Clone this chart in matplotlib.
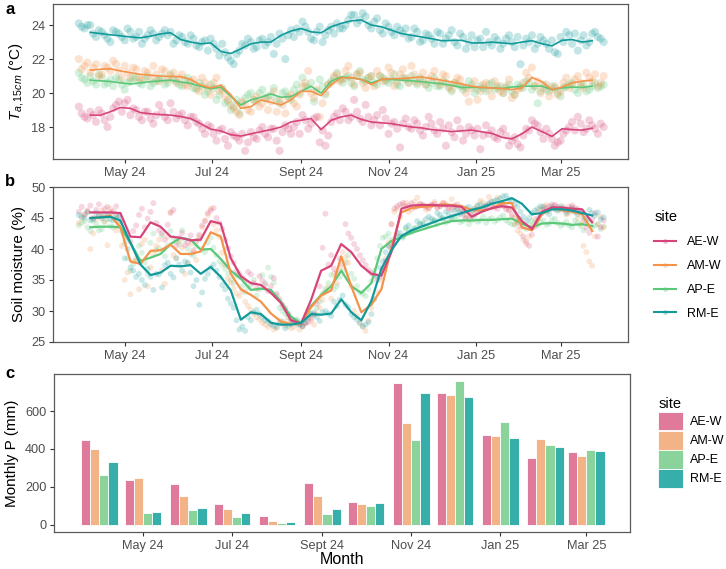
import numpy as np
import pandas as pd
import matplotlib
matplotlib.use("Agg")
import matplotlib.pyplot as plt
import matplotlib.dates as mdates
from matplotlib.lines import Line2D
from matplotlib.patches import Patch
from matplotlib.colors import to_rgba

plt.rcParams['font.family'] = ['Liberation Sans', 'DejaVu Sans']
plt.rcParams['mathtext.fontset'] = 'custom'
plt.rcParams['mathtext.rm'] = 'Liberation Sans'
plt.rcParams['mathtext.it'] = 'Liberation Sans:italic'

sites = ["AE-W", "AM-W", "AP-E", "RM-E"]
line_colors = ["#D6457A", "#F4934A", "#5AC878", "#129A9A"]
bar_colors = ["#DF7A9B", "#F2B486", "#8AD49B", "#36AEAA"]

tick_dates = ["2024-05-01", "2024-07-01", "2024-09-01", "2024-11-01", "2025-01-01", "2025-03-01"]
tick_labels = ["May 24", "Jul 24", "Sept 24", "Nov 24", "Jan 25", "Mar 25"]

# weekly smoothed lines (Apr 7 2024 .. Mar 23 2025)
line_dates = pd.date_range("2024-04-07", periods=51, freq="7D")
# daily observations, shown every 4 days (Mar 30 2024 .. Mar 29 2025)
point_dates = pd.date_range("2024-03-30", periods=92, freq="4D")
# in-between days (Apr 1 2024 .. Mar 31 2025)
point_dates_mid = pd.date_range("2024-04-01", periods=92, freq="4D")
# monthly precipitation
month_dates = pd.date_range("2024-04-01", periods=12, freq="MS")

# ---- panel a: temperature at 15 cm ----
temp_line_aew = [18.7, 18.7, 18.9, 19.15, 19.1, 18.85, 18.78, 18.73, 18.7, 18.62,
                 18.5, 18.2, 17.88, 17.77, 17.55, 17.47, 17.6, 17.73, 17.85, 18.0,
                 18.3, 18.4, 18.5, 17.85, 18.4, 18.6, 18.7, 18.45, 18.3, 18.25,
                 18.2, 18.1, 18.0, 17.95, 17.85, 17.8, 17.73, 17.78, 17.82, 17.72,
                 17.63, 17.4, 17.3, 17.6, 18.0, 17.73, 17.45, 17.9, 17.85, 17.82,
                 17.93]
temp_line_amw = [21.35, 21.4, 21.43, 21.3, 21.2, 21.1, 21.05, 21.0, 20.98, 20.96,
                 20.8, 20.47, 20.3, 20.47, 19.9, 19.1, 19.2, 19.6, 19.45, 19.3,
                 19.6, 20.1, 20.1, 19.85, 20.5, 20.9, 20.9, 20.8, 20.5, 20.8,
                 20.85, 20.85, 20.9, 20.95, 20.85, 20.76, 20.65, 20.53, 20.4, 20.33,
                 20.3, 20.27, 20.2, 20.3, 20.92, 20.67, 20.2, 20.35, 20.6, 20.7,
                 20.76]
temp_line_ape = [20.76, 20.72, 20.68, 20.6, 20.53, 20.6, 20.67, 20.72, 20.76, 20.65,
                 20.57, 20.4, 20.25, 20.35, 19.8, 19.3, 19.6, 19.75, 19.95, 19.75,
                 19.8, 20.1, 20.4, 20.0, 20.7, 20.95, 20.9, 20.8, 20.6, 20.8,
                 20.8, 20.76, 20.72, 20.67, 20.6, 20.55, 20.45, 20.33, 20.33, 20.33,
                 20.3, 20.27, 20.35, 20.4, 20.41, 20.41, 20.2, 20.3, 20.35, 20.33,
                 20.41]
temp_line_rme = [23.57, 23.5, 23.43, 23.37, 23.3, 23.25, 23.35, 23.48, 23.55, 23.15,
                 23.0, 22.9, 22.95, 22.45, 22.33, 22.6, 22.9, 23.0, 23.0, 23.4,
                 23.65, 23.8, 23.6, 23.55, 23.9, 24.1, 24.25, 24.3, 24.0, 23.9,
                 23.7, 23.5, 23.4, 23.3, 23.2, 23.08, 23.1, 23.1, 22.95, 22.95,
                 23.0, 22.95, 22.9, 23.0, 23.08, 22.9, 22.78, 23.1, 23.15, 23.0,
                 23.08]

temp_pts_aew = [19.2, 18.6, 18.9, 18.3, 18.8, 18.0, 19.1, 19.5, 19.4, 18.7,
                19.0, 18.4, 18.9, 18.2, 19.3, 18.6, 19.4, 18.5, 18.8, 18.1,
                18.6, 18.2, 17.6, 18.0, 17.2, 17.9, 16.9, 17.5, 17.2, 16.6,
                17.7, 17.3, 18.0, 17.4, 17.9, 16.6, 18.1, 17.6, 18.3, 18.7,
                17.9, 18.5, 17.1, 16.9, 18.3, 18.8, 19.1, 18.4, 19.6, 18.5,
                19.3, 18.1, 18.7, 19.0, 17.6, 18.3, 16.8, 18.5, 17.9, 18.2,
                17.5, 18.6, 17.8, 18.3, 16.9, 17.7, 18.4, 17.2, 18.0, 17.5,
                16.7, 18.1, 17.8, 17.3, 17.9, 16.9, 17.4, 16.8, 17.9, 18.4,
                18.1, 17.3, 17.6, 16.9, 17.2, 17.8, 18.3, 18.6, 17.7, 18.4,
                17.9, 18.2]
temp_pts_amw = [22.0, 21.6, 21.2, 21.7, 21.1, 21.5, 21.9, 21.3, 21.6, 20.9,
                21.4, 20.8, 21.2, 21.6, 20.7, 21.3, 21.0, 20.6, 21.1, 20.4,
                20.8, 20.1, 20.6, 19.9, 20.9, 20.2, 19.6, 19.1, 18.7, 19.3,
                18.9, 19.8, 19.4, 19.0, 20.1, 19.6, 18.8, 19.9, 19.2, 20.4,
                21.3, 19.7, 18.6, 20.0, 20.6, 21.1, 20.8, 21.6, 20.5, 21.2,
                20.3, 21.0, 21.3, 20.7, 21.5, 20.4, 21.1, 20.9, 21.6, 20.6,
                21.2, 20.8, 21.3, 20.5, 21.0, 20.2, 20.9, 20.4, 19.5, 20.7,
                20.1, 20.6, 19.8, 20.4, 20.0, 20.8, 19.9, 20.3, 21.2, 21.5,
                20.7, 20.3, 19.8, 20.4, 20.1, 20.9, 20.5, 21.0, 20.3, 20.9,
                21.1, 20.6]
temp_pts_ape = [21.2, 20.8, 21.0, 20.5, 20.9, 20.6, 20.4, 20.8, 20.2, 20.7,
                20.9, 20.5, 21.0, 20.6, 20.8, 20.5, 21.1, 20.7, 20.4, 20.9,
                20.3, 20.6, 19.9, 20.5, 19.6, 20.3, 19.5, 19.2, 18.8, 19.7,
                20.0, 19.5, 20.2, 19.8, 20.3, 19.4, 20.1, 19.6, 20.5, 20.9,
                20.3, 19.5, 20.8, 19.9, 20.7, 21.2, 20.6, 21.0, 20.4, 21.3,
                20.7, 21.0, 20.5, 20.9, 20.6, 21.1, 20.4, 20.8, 21.0, 20.5,
                20.7, 20.3, 20.9, 20.4, 20.6, 20.1, 20.5, 20.2, 20.7, 20.0,
                20.4, 20.1, 20.6, 20.3, 20.0, 20.5, 19.9, 20.4, 20.7, 20.2,
                19.4, 20.5, 20.1, 20.3, 19.8, 20.4, 20.6, 20.0, 20.5, 20.2,
                20.6, 20.4]
temp_pts_rme = [24.1, 23.8, 24.0, 23.3, 23.6, 23.2, 23.7, 23.5, 23.1, 23.6,
                23.3, 22.9, 23.4, 23.5, 23.3, 23.7, 23.6, 23.1, 23.3, 22.9,
                23.2, 22.7, 23.1, 23.2, 22.6, 22.9, 22.1, 21.7, 22.5, 22.8,
                23.0, 22.7, 23.2, 23.0, 22.3, 23.5, 22.0, 23.7, 23.8, 24.2,
                23.6, 23.1, 23.9, 23.4, 23.9, 24.1, 23.8, 24.3, 24.6, 24.3,
                24.5, 23.8, 24.4, 23.5, 23.9, 23.4, 23.7, 23.8, 23.3, 23.6,
                23.1, 23.4, 22.9, 23.5, 23.2, 23.7, 22.8, 23.3, 23.0, 22.7,
                23.2, 23.6, 22.8, 23.1, 22.9, 23.4, 22.7, 21.7, 23.2, 23.4,
                22.9, 23.1, 22.6, 22.4, 23.3, 23.6, 22.9, 22.5, 23.4, 23.0,
                23.6, 23.2]

temp_mid_aew = [18.8, 18.5, 18.7, 19.0, 18.4, 18.6, 19.3, 18.9, 19.6, 19.1,
                18.6, 18.9, 18.5, 18.7, 18.9, 18.4, 18.9, 18.7, 18.4, 18.6,
                18.3, 17.9, 18.1, 17.6, 17.8, 17.3, 17.7, 17.4, 17.6, 17.1,
                17.4, 17.8, 17.6, 17.9, 17.2, 17.7, 17.9, 18.0, 17.6, 18.4,
                18.2, 18.6, 17.8, 17.5, 18.6, 18.4, 18.9, 18.6, 18.9, 18.3,
                18.6, 18.4, 18.1, 18.5, 18.2, 17.9, 18.2, 18.0, 18.4, 17.8,
                18.0, 18.2, 17.6, 17.9, 18.1, 17.4, 17.9, 17.6, 17.8, 17.9,
                17.5, 17.6, 17.4, 17.7, 17.5, 17.2, 17.0, 17.5, 17.8, 18.2,
                17.7, 17.9, 17.3, 17.1, 17.6, 18.0, 17.8, 18.2, 17.9, 18.1,
                17.6, 18.0]
temp_mid_amw = [21.4, 21.8, 21.5, 21.0, 21.6, 21.3, 21.7, 20.9, 21.2, 21.5,
                20.9, 21.3, 20.8, 21.1, 21.4, 20.8, 21.2, 20.9, 20.5, 20.7,
                20.3, 20.9, 20.3, 20.6, 20.1, 19.8, 19.3, 18.9, 19.5, 19.0,
                19.6, 19.2, 19.7, 19.5, 18.9, 19.3, 19.7, 19.4, 19.9, 20.6,
                20.0, 20.2, 19.4, 20.5, 21.0, 20.7, 21.3, 20.9, 21.1, 20.6,
                20.9, 20.4, 21.0, 20.8, 21.2, 20.7, 21.4, 20.6, 21.1, 20.8,
                20.5, 21.0, 20.7, 21.1, 20.4, 20.6, 20.8, 20.0, 20.3, 19.6,
                20.5, 20.2, 20.7, 20.1, 20.4, 19.7, 20.2, 20.6, 20.9, 20.4,
                20.0, 20.5, 20.2, 19.9, 20.6, 20.3, 20.8, 20.6, 21.2, 20.7,
                20.4, 21.0]
temp_mid_ape = [20.9, 20.6, 20.7, 21.1, 20.5, 20.8, 20.9, 20.5, 20.6, 20.9,
                20.6, 20.8, 20.4, 20.7, 20.9, 20.6, 20.8, 20.5, 20.8, 20.6,
                20.2, 20.4, 20.1, 20.3, 19.9, 19.4, 19.0, 19.6, 19.4, 19.9,
                19.6, 20.0, 19.7, 19.9, 19.6, 20.0, 19.8, 20.2, 20.0, 20.4,
                20.6, 20.1, 20.4, 20.5, 20.9, 20.8, 20.9, 20.6, 21.1, 20.8,
                20.9, 20.6, 21.0, 20.7, 20.8, 20.5, 20.9, 20.6, 20.7, 20.9,
                20.5, 20.6, 20.4, 20.7, 20.3, 20.6, 20.4, 20.3, 20.5, 20.2,
                20.3, 20.5, 20.2, 20.4, 20.3, 20.1, 20.5, 20.3, 20.6, 20.4,
                20.1, 20.2, 20.4, 20.0, 20.3, 20.5, 20.2, 20.4, 20.1, 20.4,
                20.3, 20.5]
temp_mid_rme = [23.9, 24.0, 23.5, 23.7, 23.4, 23.0, 23.6, 23.3, 23.8, 23.2,
                23.6, 23.2, 23.7, 23.1, 23.5, 23.4, 22.9, 23.4, 23.0, 23.4,
                22.8, 23.0, 22.5, 22.9, 22.2, 22.4, 21.9, 22.3, 22.9, 23.2,
                22.6, 23.1, 22.8, 23.3, 22.9, 23.2, 23.4, 23.3, 23.6, 23.9,
                23.2, 23.6, 23.0, 23.7, 23.5, 23.8, 24.0, 24.6, 24.1, 24.7,
                24.0, 24.2, 23.7, 24.1, 23.6, 23.9, 23.5, 23.2, 23.8, 23.0,
                23.5, 23.2, 23.6, 22.9, 23.4, 23.0, 23.5, 22.6, 23.4, 23.1,
                22.7, 23.0, 23.3, 22.6, 23.2, 23.0, 23.3, 22.8, 23.0, 22.6,
                23.3, 22.9, 23.1, 22.3, 23.0, 23.4, 23.5, 23.1, 22.8, 23.5,
                23.3, 23.0]

# ---- panel b: soil moisture ----
sm_line_aew = [45.9, 45.9, 45.9, 45.8, 42.0, 41.9, 44.3, 43.6, 42.0, 41.8,
               41.4, 41.5, 44.5, 44.1, 38.5, 35.6, 34.5, 34.2, 32.9, 31.3,
               28.5, 28.0, 31.8, 36.5, 37.3, 40.8, 39.5, 37.3, 36.0, 35.7,
               39.5, 46.5, 47.0, 47.1, 47.1, 47.0, 47.0, 46.8, 45.2, 46.0,
               46.6, 46.9, 46.7, 44.5, 43.2, 46.0, 46.7, 46.7, 46.5, 46.4,
               44.3]
sm_line_amw = [45.0, 45.1, 45.4, 43.5, 38.0, 37.6, 39.7, 39.8, 40.7, 39.2,
               39.2, 39.6, 42.7, 42.0, 36.0, 33.5, 32.6, 31.5, 29.6, 28.3,
               27.9, 28.0, 30.6, 32.5, 33.3, 38.8, 34.0, 29.8, 31.0, 33.5,
               40.2, 45.9, 46.6, 46.8, 46.9, 47.2, 47.1, 46.9, 46.3, 46.2,
               46.5, 47.4, 47.4, 43.5, 43.0, 45.6, 46.6, 46.3, 46.0, 45.6,
               42.9]
sm_line_ape = [43.5, 43.6, 43.6, 43.5, 41.0, 38.1, 38.6, 39.2, 40.8, 41.8,
               41.5, 39.9, 40.0, 38.4, 36.5, 35.2, 33.4, 33.6, 33.4, 31.5,
               29.1, 28.0, 30.8, 32.6, 34.0, 36.5, 34.0, 32.9, 34.5, 40.0,
               41.3, 41.9, 42.6, 43.1, 43.6, 44.1, 44.5, 44.6, 44.6, 44.7,
               44.7, 44.8, 44.9, 44.1, 43.5, 44.1, 44.2, 44.1, 43.9, 44.0,
               43.7]
sm_line_rme = [45.0, 45.1, 45.2, 44.6, 41.0, 37.5, 35.8, 36.2, 37.3, 37.2,
               37.4, 36.0, 37.1, 35.5, 33.3, 28.6, 29.8, 29.5, 28.1, 27.8,
               27.8, 28.1, 29.5, 29.4, 29.6, 31.9, 29.8, 28.5, 31.6, 36.8,
               39.8, 42.1, 43.0, 43.6, 44.2, 44.8, 45.3, 45.8, 46.3, 46.7,
               47.3, 47.7, 48.2, 47.3, 45.6, 45.8, 46.4, 46.4, 46.2, 45.8,
               45.4]

sm_pts_aew = [46.0, 45.5, 47.0, 46.3, 45.2, 46.8, 46.1, 45.4, 42.5, 41.2,
              43.8, 46.5, 44.9, 47.4, 43.0, 41.5, 45.8, 40.5, 42.6, 41.0,
              39.8, 42.3, 44.5, 46.2, 45.0, 43.2, 40.1, 37.8, 36.0, 34.8,
              35.9, 33.6, 34.9, 33.2, 35.3, 31.9, 30.4, 28.7, 28.0, 27.6,
              28.2, 29.5, 34.0, 45.7, 39.0, 36.2, 37.6, 42.5, 40.8, 39.0,
              37.4, 36.1, 35.0, 36.8, 40.5, 46.5, 47.2, 46.8, 47.4, 46.9,
              47.1, 46.6, 47.3, 46.9, 47.0, 46.4, 47.2, 45.5, 44.8, 45.6,
              46.2, 46.8, 47.0, 46.5, 46.9, 46.2, 45.0, 43.6, 41.2, 42.3,
              44.9, 46.3, 46.9, 47.1, 46.5, 46.2, 47.0, 46.4, 44.5, 42.6,
              45.8, 43.5]
sm_pts_amw = [44.2, 45.6, 40.0, 44.8, 46.2, 40.6, 45.3, 44.0, 35.0, 32.7,
              38.5, 40.8, 34.0, 39.2, 41.5, 34.4, 46.0, 38.5, 40.2, 37.6,
              39.5, 42.0, 44.6, 46.5, 43.0, 39.4, 35.2, 33.6, 32.4, 31.5,
              30.2, 29.0, 28.1, 27.4, 27.0, 28.5, 27.6, 27.2, 28.3, 27.5,
              29.0, 27.8, 30.5, 33.2, 32.0, 34.5, 39.5, 37.8, 30.0, 28.2,
              26.8, 30.5, 33.0, 36.5, 41.0, 46.0, 45.2, 47.5, 46.4, 48.3,
              47.0, 46.5, 47.6, 46.9, 47.3, 48.0, 46.6, 46.2, 45.8, 46.5,
              47.8, 47.0, 47.7, 48.3, 47.2, 46.4, 44.0, 42.5, 40.8, 43.5,
              46.0, 46.8, 46.2, 47.0, 46.4, 45.5, 46.7, 45.0, 40.5, 38.0,
              42.0, 45.2]
sm_pts_ape = [43.8, 44.5, 42.9, 44.0, 43.2, 44.8, 43.5, 44.2, 41.0, 36.5,
              38.2, 39.4, 36.0, 42.5, 40.1, 38.8, 42.9, 41.2, 43.0, 40.0,
              38.9, 41.5, 39.5, 41.8, 39.0, 37.5, 36.0, 34.5, 35.5, 33.0,
              34.2, 32.5, 35.8, 37.0, 34.6, 30.5, 29.5, 28.6, 27.8, 28.4,
              30.0, 29.3, 31.5, 33.6, 35.8, 34.0, 36.5, 39.0, 35.2, 33.0,
              32.4, 34.8, 38.5, 41.8, 42.5, 41.0, 42.0, 43.2, 42.8, 43.5,
              44.3, 43.8, 44.6, 45.0, 44.2, 44.8, 45.3, 44.5, 44.0, 45.1,
              44.6, 44.2, 45.0, 44.7, 45.4, 44.3, 43.9, 44.8, 43.2, 44.5,
              43.8, 44.6, 44.1, 44.9, 43.7, 44.4, 43.5, 44.2, 43.0, 44.3,
              43.8, 43.2]
sm_pts_rme = [45.5, 45.0, 44.6, 45.8, 44.9, 45.4, 44.6, 45.2, 38.5, 37.0,
              35.5, 35.0, 36.8, 33.4, 35.9, 37.4, 36.0, 38.5, 36.5, 37.8,
              34.0, 31.0, 35.2, 37.0, 36.5, 34.2, 32.0, 30.5, 27.0, 26.8,
              28.5, 30.2, 29.0, 28.4, 27.6, 28.0, 27.2, 27.9, 28.6, 27.5,
              28.9, 29.8, 28.4, 30.0, 29.2, 30.8, 32.5, 30.6, 29.0, 28.0,
              27.8, 29.5, 35.5, 38.0, 40.5, 41.0, 42.6, 43.5, 42.8, 44.5,
              44.0, 45.2, 44.6, 45.5, 46.0, 45.2, 46.4, 46.0, 46.8, 46.5,
              47.2, 47.0, 47.6, 47.9, 48.5, 48.0, 47.2, 46.0, 44.5, 45.8,
              46.5, 46.8, 45.6, 46.4, 46.9, 45.8, 46.5, 45.6, 45.1, 46.3,
              45.4, 44.8]

sm_mid_aew = [46.8, 46.2, 45.0, 47.2, 46.5, 45.9, 46.9, 44.5, 41.8, 42.9,
              45.5, 43.5, 46.0, 44.2, 42.5, 43.9, 46.3, 41.8, 40.6, 42.2,
              41.3, 43.8, 45.8, 46.6, 44.2, 41.5, 38.8, 36.5, 35.4, 36.3,
              34.5, 35.6, 34.2, 34.0, 32.8, 31.0, 29.5, 28.3, 27.9, 28.0,
              28.8, 31.2, 40.2, 37.5, 36.8, 38.5, 44.0, 41.8, 40.0, 38.2,
              36.6, 35.8, 35.5, 38.0, 44.0, 46.9, 47.4, 47.0, 46.7, 47.3,
              46.8, 47.1, 46.6, 47.4, 46.7, 46.9, 46.1, 45.0, 45.3, 46.0,
              46.5, 47.2, 46.7, 47.1, 46.4, 45.6, 44.3, 42.0, 40.5, 43.6,
              45.7, 46.6, 47.2, 46.8, 46.3, 46.8, 46.6, 45.9, 43.4, 44.8,
              42.0, 44.6]
sm_mid_amw = [45.0, 46.0, 42.5, 45.5, 44.5, 46.5, 43.0, 40.5, 36.2, 38.0,
              33.5, 41.5, 37.0, 40.5, 36.5, 42.0, 39.0, 41.2, 36.0, 40.8,
              38.2, 43.5, 45.5, 44.0, 42.0, 37.5, 34.5, 32.8, 33.2, 30.8,
              29.5, 28.6, 27.8, 28.0, 27.3, 27.9, 28.5, 27.4, 27.0, 28.0,
              28.4, 29.5, 31.8, 33.8, 36.0, 37.0, 38.6, 34.0, 29.2, 27.5,
              28.5, 31.8, 35.0, 38.5, 44.0, 46.5, 47.0, 46.0, 47.6, 47.2,
              46.3, 47.1, 46.8, 47.5, 46.4, 47.0, 46.8, 45.4, 46.2, 47.0,
              47.5, 48.4, 47.0, 47.3, 46.8, 45.2, 43.0, 41.5, 42.0, 44.8,
              46.5, 47.1, 46.5, 46.2, 46.9, 45.8, 46.3, 44.0, 39.5, 37.3,
              44.0, 43.5]
sm_mid_ape = [44.2, 43.5, 44.6, 43.0, 44.3, 43.7, 44.9, 42.8, 38.5, 37.5,
              40.5, 37.8, 41.0, 39.8, 42.2, 40.6, 41.8, 40.8, 41.5, 39.2,
              40.5, 40.0, 41.0, 40.2, 38.0, 36.8, 35.0, 35.8, 34.0, 33.8,
              35.0, 33.5, 34.5, 35.5, 32.5, 30.0, 29.0, 28.3, 28.0, 28.8,
              29.5, 30.5, 32.8, 34.5, 33.5, 35.5, 37.8, 36.0, 34.0, 32.8,
              33.5, 36.5, 40.5, 42.0, 41.5, 42.5, 41.8, 43.0, 43.4, 44.0,
              43.6, 44.5, 44.0, 44.8, 44.5, 45.0, 44.3, 44.9, 44.6, 44.4,
              45.2, 44.8, 44.4, 45.1, 44.6, 44.0, 44.5, 43.6, 44.0, 44.2,
              44.4, 43.9, 44.7, 44.2, 44.0, 43.8, 44.6, 43.7, 44.5, 43.5,
              44.0, 43.6]
sm_mid_rme = [45.2, 45.9, 44.8, 45.3, 45.6, 44.8, 45.5, 43.5, 40.0, 36.5,
              36.0, 34.2, 35.5, 36.0, 33.8, 37.8, 35.4, 37.5, 38.0, 36.2,
              35.0, 33.0, 36.0, 37.5, 35.5, 33.5, 31.2, 28.5, 27.5, 29.0,
              29.8, 29.5, 28.5, 27.8, 27.4, 28.3, 27.6, 28.2, 27.8, 28.2,
              29.5, 29.0, 29.8, 29.6, 31.5, 31.8, 31.0, 29.5, 28.6, 27.5,
              28.2, 32.0, 37.0, 39.5, 40.0, 42.0, 42.0, 43.8, 43.2, 44.0,
              44.8, 44.9, 45.8, 45.0, 45.6, 46.1, 45.7, 46.6, 46.2, 47.0,
              46.8, 47.4, 47.8, 48.2, 48.6, 47.6, 46.8, 45.2, 45.0, 46.2,
              46.9, 46.0, 46.8, 46.2, 46.5, 46.2, 45.9, 46.0, 44.9, 45.8,
              45.9, 45.1]

# ---- panel c: monthly precipitation (mm) ----
precip_aew = [447, 237, 216, 112, 46, 223, 119, 746, 695, 475, 354, 386]
precip_amw = [400, 249, 151, 84, 21, 153, 112, 539, 684, 468, 454, 365]
precip_ape = [263, 61, 79, 44, 11, 58, 98, 449, 756, 540, 419, 395]
precip_rme = [333, 68, 89, 60, 14, 82, 117, 695, 672, 460, 409, 388]

temp_lines = [temp_line_aew, temp_line_amw, temp_line_ape, temp_line_rme]
temp_pts = [temp_pts_aew, temp_pts_amw, temp_pts_ape, temp_pts_rme]
temp_mid = [temp_mid_aew, temp_mid_amw, temp_mid_ape, temp_mid_rme]
sm_lines = [sm_line_aew, sm_line_amw, sm_line_ape, sm_line_rme]
sm_pts = [sm_pts_aew, sm_pts_amw, sm_pts_ape, sm_pts_rme]
sm_mid = [sm_mid_aew, sm_mid_amw, sm_mid_ape, sm_mid_rme]
precip = [precip_aew, precip_amw, precip_ape, precip_rme]

W, H = 726, 569
fig = plt.figure(figsize=(W / 100, H / 100), dpi=100)


def box(l, t, r, b):
    return [l / W, 1 - b / H, (r - l) / W, (b - t) / H]


ax_a = fig.add_axes(box(53, 4, 628, 159))
ax_b = fig.add_axes(box(53, 187, 628, 342))
ax_c = fig.add_axes(box(54, 374, 630, 532))

grey_txt = "#4D4D4D"
for ax in (ax_a, ax_b, ax_c):
    for s in ax.spines.values():
        s.set_color("#5A5A5A")
        s.set_linewidth(0.9)
    ax.tick_params(axis="both", colors="#333333", labelcolor=grey_txt,
                   labelsize=9.2, length=3, width=0.8, direction="out", pad=2.5)
    ax.set_xticks(pd.to_datetime(tick_dates))
    ax.set_xticklabels(tick_labels)

order = [2, 1, 0, 3]

# panel a
for k in order:
    ax_a.scatter(point_dates, temp_pts[k], s=34, color=line_colors[k],
                 alpha=0.25, edgecolors="none", zorder=2)
    ax_a.scatter(point_dates_mid, temp_mid[k], s=34, color=line_colors[k],
                 alpha=0.25, edgecolors="none", zorder=2)
for k in order:
    ax_a.plot(line_dates, temp_lines[k], color=line_colors[k], lw=1.2, zorder=3)
ax_a.set_xlim(pd.Timestamp("2024-03-12"), pd.Timestamp("2025-04-17"))
ax_a.set_ylim(16.12, 25.24)
ax_a.set_yticks([18, 20, 22, 24])
ax_a.set_ylabel(r"$T_{a,15cm}$ (°C)", fontsize=11, labelpad=4)

# panel b
for k in order:
    ax_b.scatter(point_dates, sm_pts[k], s=18, color=line_colors[k],
                 alpha=0.22, edgecolors="none", zorder=2)
    ax_b.scatter(point_dates_mid, sm_mid[k], s=18, color=line_colors[k],
                 alpha=0.22, edgecolors="none", zorder=2)
for k in order:
    ax_b.plot(line_dates, sm_lines[k], color=line_colors[k], lw=1.6, zorder=3)
ax_b.set_xlim(pd.Timestamp("2024-03-12"), pd.Timestamp("2025-04-17"))
ax_b.set_ylim(25, 50)
ax_b.set_yticks([25, 30, 35, 40, 45, 50])
ax_b.set_ylabel("Soil moisture (%)", fontsize=11, labelpad=4)

# panel c
xm = mdates.date2num(month_dates)
bw = 6.3
for k in range(4):
    ax_c.bar(xm + (k - 1.5) * bw, precip[k], width=bw, color=bar_colors[k],
             edgecolor="white", linewidth=0.6, zorder=2)
ax_c.set_xlim(pd.Timestamp("2024-03-01"), pd.Timestamp("2025-03-31"))
ax_c.set_ylim(-37.5, 795)
ax_c.set_yticks([0, 200, 400, 600])
ax_c.set_ylabel("Monthly P (mm)", fontsize=11, labelpad=4)
fig.text(342 / W, 1 - 560 / H, "Month", fontsize=11.5, ha="center", va="center")

# panel letters
for ax_y, lab in [(10, "a"), (181, "b"), (373, "c")]:
    fig.text(5 / W, 1 - ax_y / H, lab, fontsize=12, fontweight="bold",
             va="center", ha="left")

# legends
h_lines = [Line2D([], [], color=c, lw=1.5, marker="o", markersize=3.5,
                  markerfacecolor=to_rgba(c, 0.35), markeredgecolor="none")
           for c in line_colors]
fig.legend(h_lines, sites, title="site", loc="upper left",
           bbox_to_anchor=(643 / W, 1 - 199 / H), frameon=False,
           fontsize=9, title_fontsize=10.5, handlelength=1.7,
           labelspacing=0.95, handletextpad=0.9, alignment="left")

h_bars = [Patch(facecolor=c, edgecolor="white", linewidth=0.6) for c in bar_colors]
fig.legend(h_bars, sites, title="site", loc="upper left",
           bbox_to_anchor=(647 / W, 1 - 386 / H), frameon=False,
           fontsize=9, title_fontsize=10.5, handlelength=1.95,
           handleheight=1.95, labelspacing=0.02, handletextpad=0.6,
           alignment="left")

fig.savefig("out.png", dpi=100)
